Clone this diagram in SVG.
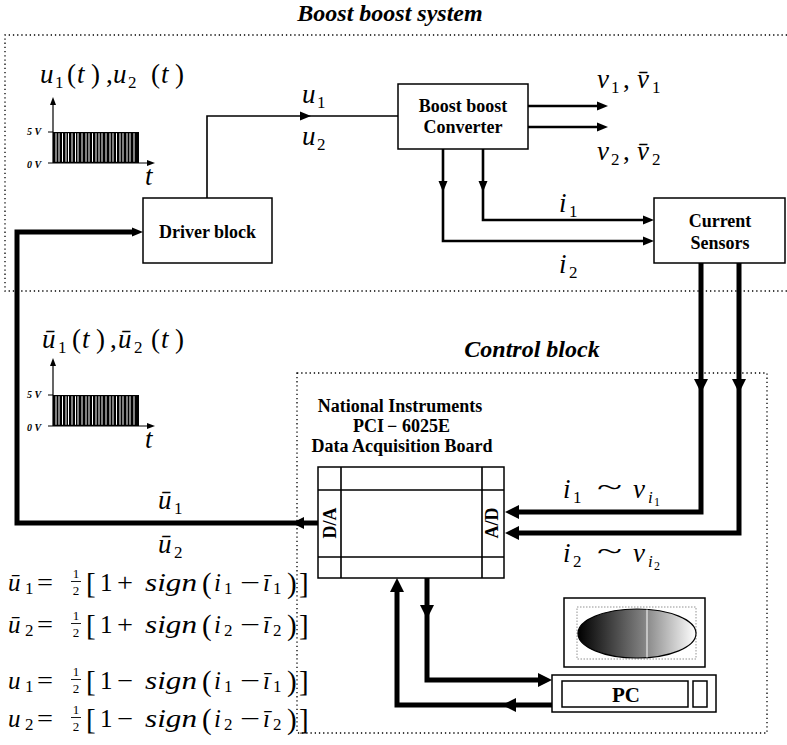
<svg xmlns="http://www.w3.org/2000/svg" width="787" height="745" viewBox="0 0 787 745">
<style>
  text { font-family: "Liberation Serif", "Times New Roman", serif; fill: #000; }
  .box { fill: #fff; stroke: #000; stroke-width: 1.5; }
  .lbl { font-weight: bold; font-size: 18px; text-anchor: middle; }
  .ttl { font-weight: bold; font-style: italic; font-size: 24px; text-anchor: middle; }
  .m { font-size: 27px; }
  .e { font-size: 25px; }
  .br { font-size: 29px; }
  .i { font-style: italic; }
  .s { font-size: 17px; }
  .ss { font-size: 12px; }
  .fr { font-size: 13px; text-anchor: middle; }
  .vl { font-size: 10px; font-weight: bold; font-style: italic; }
  .dot { fill: none; stroke: #000; stroke-width: 1.3; stroke-dasharray: 1.3 2.9; }
  .w1 { fill: none; stroke: #000; stroke-width: 1.6; }
  .w2 { fill: none; stroke: #000; stroke-width: 2.6; }
  .w5 { fill: none; stroke: #000; stroke-width: 5; }
  .ax { fill: none; stroke: #000; stroke-width: 1.2; }
  .bar { stroke: #000; stroke-width: 0.9; }
</style>
<defs>
  <!-- arrowheads, tip at origin, pointing along +x -->
  <path id="ahS" d="M0,0 L-8,-3 L-8,3 Z"/>
  <path id="ah" d="M0,0 L-11,-4.5 L-11,4.5 Z"/>
  <path id="ahM" d="M0,0 L-12,-6 L-12,6 Z"/>
  <path id="ahT" d="M0,0 L-14,-7 L-14,7 Z"/>
  <linearGradient id="screenFill" x1="0" y1="0" x2="1" y2="0">
    <stop offset="0" stop-color="#000"/>
    <stop offset="0.55" stop-color="#808080"/>
    <stop offset="1" stop-color="#fff"/>
  </linearGradient>
  <!-- PWM pulse train, 86 x 31 -->
  <g id="pulses">
    <rect x="0" y="0" width="86" height="31" fill="#000"/>
    <path d="M3,1.2V29.8 M6,1.2V29.8 M9.5,1.2V29.8 M13,1.2V29.8 M15.5,1.2V29.8 M19,1.2V29.8 M22.5,1.2V29.8 M25,1.2V29.8 M29,1.2V29.8 M33,1.2V29.8 M36,1.2V29.8 M39.5,1.2V29.8 M43,1.2V29.8 M46,1.2V29.8 M49,1.2V29.8 M53,1.2V29.8 M57,1.2V29.8 M60,1.2V29.8 M63.5,1.2V29.8 M67,1.2V29.8 M70,1.2V29.8 M74,1.2V29.8 M77,1.2V29.8 M81,1.2V29.8" stroke="#fff" stroke-width="1"/>
  </g>
</defs>

<!-- frames -->
<g id="frames">
  <path class="dot" d="M787,35 H5 V291 H787"/>
  <rect class="dot" x="297" y="373" width="470" height="360"/>
  <text class="ttl" x="390" y="21">Boost boost system</text>
  <text class="ttl" x="532" y="357">Control block</text>
</g>

<!-- connectors -->
<g id="connectors">
  <!-- driver to converter -->
  <path class="w1" d="M207,198 V116 H398"/>
  <use href="#ah" transform="translate(311,116)"/>
  <!-- converter outputs -->
  <path class="w2" d="M528,106 H598"/>
  <use href="#ah" transform="translate(608,106)"/>
  <path class="w2" d="M528,127 H598"/>
  <use href="#ah" transform="translate(608,127)"/>
  <!-- currents to sensors -->
  <path class="w2" d="M443,149 V241 H644"/>
  <use href="#ah" transform="translate(443,192) rotate(90)"/>
  <use href="#ah" transform="translate(654,241)"/>
  <path class="w2" d="M483,149 V220 H644"/>
  <use href="#ah" transform="translate(483,192) rotate(90)"/>
  <use href="#ah" transform="translate(654,220)"/>
  <!-- sensors to A/D -->
  <path class="w5" d="M701,263 V512 H518"/>
  <use href="#ahT" transform="translate(701,393) rotate(90)"/>
  <use href="#ahT" transform="translate(505,512) rotate(180)"/>
  <path class="w5" d="M739,263 V533 H518"/>
  <use href="#ahT" transform="translate(739,393) rotate(90)"/>
  <use href="#ahT" transform="translate(505,533) rotate(180)"/>
  <!-- D/A back to driver -->
  <path class="w5" d="M318,523 H17 V232 H133"/>
  <use href="#ahM" transform="translate(292,523) rotate(180)"/>
  <use href="#ah" transform="translate(143,232)"/>
  <!-- board to PC -->
  <path class="w5" d="M427,578 V680 H540"/>
  <use href="#ahT" transform="translate(427,619) rotate(90)"/>
  <use href="#ahT" transform="translate(552,680)"/>
  <!-- PC to board -->
  <path class="w5" d="M552,705 H397 V590"/>
  <use href="#ahT" transform="translate(502,705) rotate(180)"/>
  <use href="#ahT" transform="translate(397,578) rotate(-90)"/>
</g>

<!-- gate signal plots -->
<g id="plot-u">
  <use href="#pulses" x="53" y="132"/>
  <path class="ax" d="M48,132 H53 M53,163 V103 M48,163 H148"/>
  <use href="#ahS" transform="translate(53,97) rotate(-90)"/>
  <use href="#ahS" transform="translate(155,163)"/>
  <text class="vl" x="27" y="135">5 V</text>
  <text class="vl" x="27" y="168">0 V</text>
  <text class="m i" x="145" y="185">t</text>
  <text class="m" y="83"><tspan class="i" x="40">u</tspan><tspan class="s" x="55" y="88">1</tspan><tspan x="67" y="83">(</tspan><tspan class="i" x="77">t</tspan><tspan x="91">)</tspan><tspan x="106">,</tspan><tspan class="i" x="113">u</tspan><tspan class="s" x="128" y="88">2</tspan><tspan x="151" y="83">(</tspan><tspan class="i" x="161">t</tspan><tspan x="175">)</tspan></text>
</g>

<g id="plot-ubar">
  <use href="#pulses" x="53" y="395"/>
  <path class="ax" d="M48,395 H53 M53,426 V364 M48,426 H148"/>
  <use href="#ahS" transform="translate(53,358) rotate(-90)"/>
  <use href="#ahS" transform="translate(155,426)"/>
  <text class="vl" x="27" y="398">5 V</text>
  <text class="vl" x="27" y="431">0 V</text>
  <text class="m i" x="145" y="448">t</text>
  <text class="m" y="348"><tspan class="i" x="42">ū</tspan><tspan class="s" x="58" y="353">1</tspan><tspan x="72" y="348">(</tspan><tspan class="i" x="82">t</tspan><tspan x="96">)</tspan><tspan x="110">,</tspan><tspan class="i" x="118">ū</tspan><tspan class="s" x="134" y="353">2</tspan><tspan x="151" y="348">(</tspan><tspan class="i" x="161">t</tspan><tspan x="175">)</tspan></text>
</g>

<!-- blocks -->
<g id="driver">
  <rect class="box" x="143" y="198" width="129" height="65"/>
  <text class="lbl" x="207.5" y="238">Driver block</text>
</g>

<g id="converter">
  <rect class="box" x="398" y="84" width="130" height="65"/>
  <text class="lbl" x="463" y="112">Boost boost</text>
  <text class="lbl" x="463" y="133">Converter</text>
</g>

<g id="sensors">
  <rect class="box" x="654" y="198" width="131" height="65"/>
  <text class="lbl" x="720" y="227">Current</text>
  <text class="lbl" x="720" y="249">Sensors</text>
</g>

<g id="daq">
  <text class="lbl" x="400" y="412">National Instruments</text>
  <text class="lbl" y="432"><tspan x="353" text-anchor="start">PCI</tspan><tspan x="387" text-anchor="start">−</tspan><tspan x="402" text-anchor="start">6025E</tspan></text>
  <text class="lbl" x="402" y="452">Data Acquisition Board</text>
  <rect class="box" x="318" y="467" width="186" height="111"/>
  <path class="w1" d="M341,467 V578 M482,467 V578 M318,490 H504 M318,557 H504"/>
  <text class="lbl" transform="translate(336,523) rotate(-90)">D/A</text>
  <text class="lbl" transform="translate(498,523) rotate(-90)">A/D</text>
</g>

<g id="monitor">
  <rect class="box" x="564" y="598" width="141" height="69"/>
  <rect x="577" y="607" width="119" height="52" fill="none" stroke="#777" stroke-width="0.8" stroke-dasharray="1.5 1.5"/>
  <ellipse cx="637" cy="633.5" rx="59" ry="24.5" fill="url(#screenFill)" stroke="#000" stroke-width="1.2"/>
  <line x1="647" y1="609.5" x2="647" y2="657.5" stroke="#fff" stroke-width="1"/>
</g>

<g id="pc">
  <rect class="box" x="552" y="675" width="164" height="37"/>
  <rect class="box" x="562" y="681" width="126" height="26"/>
  <rect class="box" x="693" y="681" width="14" height="26"/>
  <text class="lbl" x="626" y="702" style="font-size:21px">PC</text>
</g>

<!-- signal labels -->
<g id="labels">
  <text class="m"><tspan class="i" x="302" y="103">u</tspan><tspan class="s" x="317" y="108">1</tspan></text>
  <text class="m"><tspan class="i" x="302" y="145">u</tspan><tspan class="s" x="317" y="150">2</tspan></text>
  <text class="m"><tspan class="i" x="597" y="88">v</tspan><tspan class="s" x="611" y="93">1</tspan><tspan x="623" y="88">,</tspan><tspan class="i" x="637">v̄</tspan><tspan class="s" x="652" y="93">1</tspan></text>
  <text class="m"><tspan class="i" x="597" y="160">v</tspan><tspan class="s" x="611" y="165">2</tspan><tspan x="623" y="160">,</tspan><tspan class="i" x="637">v̄</tspan><tspan class="s" x="652" y="165">2</tspan></text>
  <text class="m"><tspan class="i" x="559" y="212">i</tspan><tspan class="s" x="569" y="217">1</tspan></text>
  <text class="m"><tspan class="i" x="559" y="273">i</tspan><tspan class="s" x="569" y="278">2</tspan></text>
  <text class="m"><tspan class="i" x="563" y="498">i</tspan><tspan class="s" x="573" y="503">1</tspan><tspan x="597" y="496" textLength="25" lengthAdjust="spacingAndGlyphs">~</tspan><tspan class="i" x="633" y="498">v</tspan><tspan class="s i" x="648" y="503">i</tspan><tspan class="ss" x="654" y="506">1</tspan></text>
  <text class="m"><tspan class="i" x="563" y="562">i</tspan><tspan class="s" x="573" y="567">2</tspan><tspan x="597" y="560" textLength="25" lengthAdjust="spacingAndGlyphs">~</tspan><tspan class="i" x="633" y="562">v</tspan><tspan class="s i" x="648" y="567">i</tspan><tspan class="ss" x="654" y="570">2</tspan></text>
  <text class="m"><tspan class="i" x="158" y="509">ū</tspan><tspan class="s" x="174" y="514">1</tspan></text>
  <text class="m"><tspan class="i" x="158" y="553">ū</tspan><tspan class="s" x="174" y="558">2</tspan></text>
</g>

<!-- switching laws -->
<g id="equations">
  <text class="e"><tspan class="i" x="8" y="591">ū</tspan><tspan class="s" x="25" y="594">1</tspan><tspan x="37" y="591" textLength="16" lengthAdjust="spacingAndGlyphs">=</tspan><tspan class="br" x="86" y="593">[</tspan><tspan x="100" y="591">1</tspan><tspan x="117" textLength="16" lengthAdjust="spacingAndGlyphs">+</tspan><tspan class="i" x="145" textLength="52" lengthAdjust="spacingAndGlyphs">sign</tspan><tspan class="br" x="202" y="593">(</tspan><tspan class="i" x="214" y="591">i</tspan><tspan class="s" x="224" y="594">1</tspan><tspan x="240" y="591" textLength="20" lengthAdjust="spacingAndGlyphs">−</tspan><tspan class="i" x="263">ī</tspan><tspan class="s" x="273" y="594">1</tspan><tspan class="br" x="287" y="593">)</tspan><tspan class="br" x="299">]</tspan></text>
  <text class="fr" x="76" y="578">1</text><line class="bar" x1="71" y1="581.5" x2="81" y2="581.5"/><text class="fr" x="76" y="595">2</text>

  <text class="e"><tspan class="i" x="8" y="633">ū</tspan><tspan class="s" x="25" y="636">2</tspan><tspan x="37" y="633" textLength="16" lengthAdjust="spacingAndGlyphs">=</tspan><tspan class="br" x="86" y="635">[</tspan><tspan x="100" y="633">1</tspan><tspan x="117" textLength="16" lengthAdjust="spacingAndGlyphs">+</tspan><tspan class="i" x="145" textLength="52" lengthAdjust="spacingAndGlyphs">sign</tspan><tspan class="br" x="202" y="635">(</tspan><tspan class="i" x="214" y="633">i</tspan><tspan class="s" x="224" y="636">2</tspan><tspan x="240" y="633" textLength="20" lengthAdjust="spacingAndGlyphs">−</tspan><tspan class="i" x="263">ī</tspan><tspan class="s" x="273" y="636">2</tspan><tspan class="br" x="287" y="635">)</tspan><tspan class="br" x="299">]</tspan></text>
  <text class="fr" x="76" y="620">1</text><line class="bar" x1="71" y1="623.5" x2="81" y2="623.5"/><text class="fr" x="76" y="637">2</text>

  <text class="e"><tspan class="i" x="8" y="689">u</tspan><tspan class="s" x="25" y="692">1</tspan><tspan x="37" y="689" textLength="16" lengthAdjust="spacingAndGlyphs">=</tspan><tspan class="br" x="86" y="691">[</tspan><tspan x="100" y="689">1</tspan><tspan x="117" textLength="16" lengthAdjust="spacingAndGlyphs">−</tspan><tspan class="i" x="145" textLength="52" lengthAdjust="spacingAndGlyphs">sign</tspan><tspan class="br" x="202" y="691">(</tspan><tspan class="i" x="214" y="689">i</tspan><tspan class="s" x="224" y="692">1</tspan><tspan x="240" y="689" textLength="20" lengthAdjust="spacingAndGlyphs">−</tspan><tspan class="i" x="263">ī</tspan><tspan class="s" x="273" y="692">1</tspan><tspan class="br" x="287" y="691">)</tspan><tspan class="br" x="299">]</tspan></text>
  <text class="fr" x="76" y="676">1</text><line class="bar" x1="71" y1="679.5" x2="81" y2="679.5"/><text class="fr" x="76" y="693">2</text>

  <text class="e"><tspan class="i" x="8" y="727">u</tspan><tspan class="s" x="25" y="730">2</tspan><tspan x="37" y="727" textLength="16" lengthAdjust="spacingAndGlyphs">=</tspan><tspan class="br" x="86" y="729">[</tspan><tspan x="100" y="727">1</tspan><tspan x="117" textLength="16" lengthAdjust="spacingAndGlyphs">−</tspan><tspan class="i" x="145" textLength="52" lengthAdjust="spacingAndGlyphs">sign</tspan><tspan class="br" x="202" y="729">(</tspan><tspan class="i" x="214" y="727">i</tspan><tspan class="s" x="224" y="730">2</tspan><tspan x="240" y="727" textLength="20" lengthAdjust="spacingAndGlyphs">−</tspan><tspan class="i" x="263">ī</tspan><tspan class="s" x="273" y="730">2</tspan><tspan class="br" x="287" y="729">)</tspan><tspan class="br" x="299">]</tspan></text>
  <text class="fr" x="76" y="714">1</text><line class="bar" x1="71" y1="717.5" x2="81" y2="717.5"/><text class="fr" x="76" y="731">2</text>
</g>
</svg>
